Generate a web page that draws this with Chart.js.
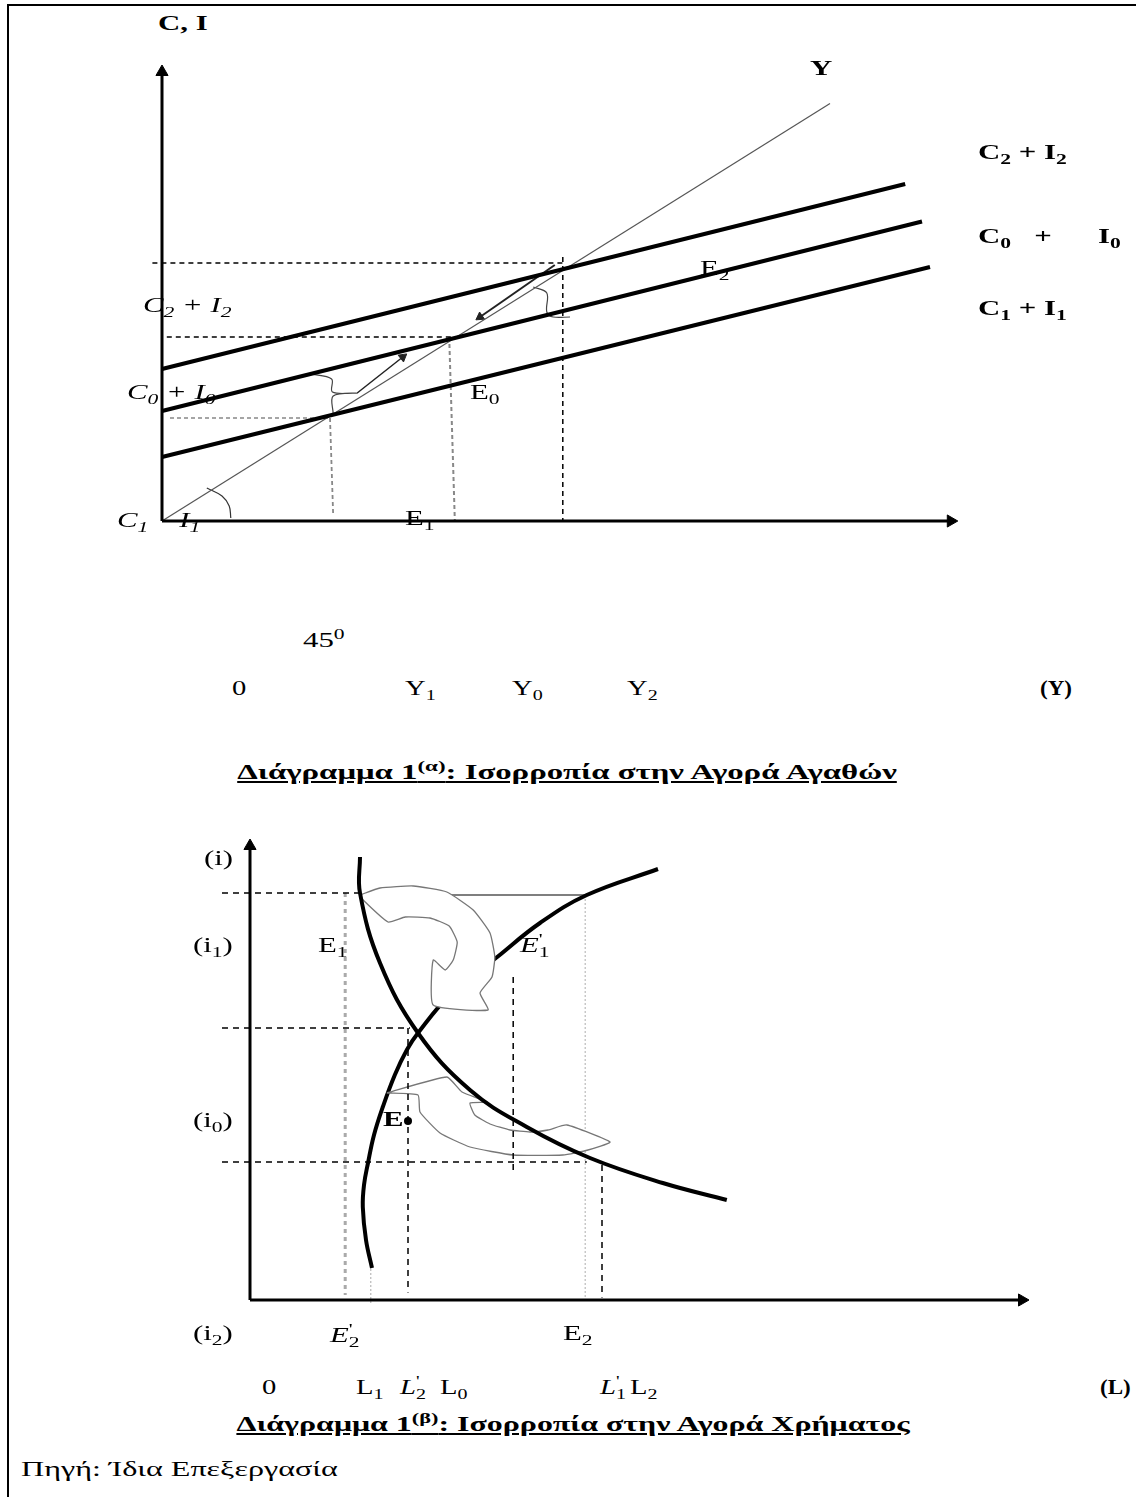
<!DOCTYPE html>
<html>
<head>
<meta charset="utf-8">
<script src="https://cdn.jsdelivr.net/npm/chart.js@4.4.0/dist/chart.umd.min.js"></script>
<style>
html,body{margin:0;padding:0;background:#fff;}
body{width:1136px;height:1497px;position:relative;overflow:hidden;font-family:"Liberation Serif","DejaVu Serif",serif;color:#000;}
.frame{position:absolute;left:7px;top:4px;width:1140px;height:1500px;border-left:2px solid #000;border-top:2px solid #000;}
canvas{position:absolute;}
.lbl{position:absolute;white-space:nowrap;line-height:1;font-size:22px;transform-origin:0 50%;transform:translateY(-50%) scaleX(var(--sx,1.4));}
.b{font-weight:bold;}
.it{font-style:italic;}
.cap{font-weight:bold;text-decoration:underline;font-size:22px;transform-origin:50% 50%;transform:translate(-50%,-50%) scaleX(var(--sx,1.49));}
sub{font-size:0.7em;vertical-align:-0.3em;line-height:0;}
sup{font-size:0.7em;vertical-align:0.55em;line-height:0;}
.pr{display:inline-block;width:0;}
</style>
</head>
<body>
<div class="frame"></div>
<canvas id="goods" width="904" height="520" style="left:98px;top:41px"></canvas>
<canvas id="money" width="880" height="490" style="left:170px;top:830px"></canvas>
<div id="labels"></div>
<script>
// ---- diagram 1(a): goods market (x = income Y, y = C+I) ----
const incomeLine = [{x:0,y:0},{x:83.5,y:83.5}];          // 45 degree line Y
const demand2 = [{x:0,y:30.4},{x:92.9,y:67.4}];          // C2 + I2
const demand0 = [{x:0,y:22},{x:95,y:59.9}];              // C0 + I0
const demand1 = [{x:0,y:12.8},{x:96,y:50.8}];            // C1 + I1
const goodsYAxis = [{x:0,y:0},{x:0,y:89.8}];
const goodsXAxis = [{x:0,y:0},{x:98.6,y:0}];
const guideE2h = [{x:-1.2,y:51.6},{x:50.1,y:51.6}];
const guideE2v = [{x:50.1,y:52.8},{x:50.1,y:0}];
const guideE0h = [{x:0.6,y:36.8},{x:36.2,y:36.8}];
const guideE0v = [{x:35.9,y:36.8},{x:36.6,y:0.2}];
const guideE1h = [{x:1,y:20.6},{x:21,y:20.6}];
const guideE1v = [{x:21,y:20.6},{x:21.4,y:1}];
const moveUp = [{x:24.4,y:25.6},{x:30.1,y:32.8}];
const moveDown = [{x:49.1,y:51.2},{x:39.75,y:40.8}];
const brace1 = [{x:18.5,y:29.4},{x:21.2,y:28.4},{x:21.3,y:25.8},{x:24.4,y:25.6},{x:21.4,y:25},{x:21.4,y:21.4}];
const brace2 = [{x:46.4,y:46.8},{x:48.1,y:45.6},{x:48.1,y:41.8},{x:48.9,y:40.8},{x:51,y:40.8}];
const angleArc = [{x:5.6,y:6.6},{x:7.5,y:5},{x:8.4,y:3},{x:8.6,y:0.6}];

// ---- diagram 1(b): money market (x = L, y = i) ----
const curveDown = [{x:13.75,y:88.6},{x:13.75,y:81.4},{x:16.25,y:67.4},{x:21,y:53.4},{x:27.5,y:42},{x:34.6,y:34.6},{x:42.5,y:28.4},{x:51.6,y:23.4},{x:59.6,y:20}];
const curveUp = [{x:15.25,y:6.4},{x:14.5,y:12},{x:14.1,y:18.6},{x:14.25,y:23},{x:14.75,y:27.4},{x:15.5,y:33},{x:16.6,y:38.6},{x:18.1,y:45},{x:19.6,y:50},{x:21,y:53.4},{x:25,y:61},{x:30.9,y:68.6},{x:36.25,y:75.4},{x:42.1,y:81},{x:51,y:86.2}];
const moneyYAxis = [{x:0,y:0},{x:0,y:90.8}];
const moneyXAxis = [{x:0,y:0},{x:96.5,y:0}];
const rateLine1 = [{x:-3.5,y:81.4},{x:13.75,y:81.4}];
const rateSolid = [{x:25,y:81},{x:42.1,y:81}];
const rateLine0 = [{x:-3.5,y:54.4},{x:20,y:54.4}];
const rateLine2 = [{x:-3.5,y:27.6},{x:42.1,y:27.6}];
const dropL1 = [{x:11.9,y:81.4},{x:11.9,y:1}];
const dropCurve = [{x:15.1,y:7},{x:15.1,y:-1}];
const dropL2p = [{x:19.75,y:54.4},{x:19.75,y:1.5}];
const dropMid = [{x:32.9,y:64.6},{x:32.9,y:26}];
const dropL1p = [{x:41.9,y:81},{x:41.9,y:0}];
const dropL2 = [{x:44,y:27},{x:44,y:0.5}];
const pointE = [{x:19.75,y:35.8}];
const bigArrowTop = [{x:13.75,y:81},{x:16.25,y:82.4},{x:20.4,y:82.8},{x:24.6,y:81.6},{x:27.9,y:78},{x:30,y:73.4},{x:30.6,y:68.6},{x:30.25,y:64.6},{x:28.75,y:61.4},{x:29.75,y:58},{x:22.9,y:59},{x:22.9,y:68},{x:24.4,y:66},{x:25.4,y:68},{x:25.9,y:71.6},{x:24.9,y:74.8},{x:22.5,y:76.4},{x:19.4,y:76.6},{x:17.25,y:75.6},{x:13.75,y:80.6},{x:13.75,y:81}];
const bigArrowLow = [{x:17.1,y:41.4},{x:24.6,y:44.6},{x:26.5,y:41.6},{x:29.6,y:39.6},{x:27.5,y:39.4},{x:28.1,y:37},{x:30,y:35.2},{x:32.5,y:34},{x:35,y:33.6},{x:37.25,y:34},{x:39.6,y:35},{x:45,y:31.6},{x:42.25,y:30},{x:39.1,y:29},{x:32.9,y:29},{x:27.5,y:30.6},{x:23.75,y:33.4},{x:21.25,y:37.6},{x:21,y:41},{x:17.1,y:41.4}];

// ---- text ----
const incomeTicks = ['0','Y<sub>1</sub>','Y<sub>0</sub>','Y<sub>2</sub>'];
const moneyTicks = ['0','L<sub>1</sub>','<i>L</i><span class="pr"><sup>\'</sup></span><sub>2</sub>','L<sub>0</sub>','<i>L</i><span class="pr"><sup>\'</sup></span><sub>1</sub>','L<sub>2</sub>'];
const rateTicks = ['(i)','(i<sub>1</sub>)','(i<sub>0</sub>)','(i<sub>2</sub>)'];
const demandNames = ['C<sub>2</sub> + I<sub>2</sub>','C<sub>0</sub>&nbsp;&nbsp;&nbsp;+&nbsp;&nbsp;&nbsp;&nbsp;&nbsp;&nbsp;I<sub>0</sub>','C<sub>1</sub> + I<sub>1</sub>'];
const demandNamesLeft = ['C<sub>2</sub> + I<sub>2</sub>','C<sub>0</sub> + I<sub>0</sub>','C<sub>1</sub>&nbsp;&nbsp;&nbsp;&nbsp;I<sub>1</sub>'];
const captions = ['Διάγραμμα 1<sup>(α)</sup>: Ισορροπία στην Αγορά Αγαθών','Διάγραμμα 1<sup>(β)</sup>: Ισορροπία στην Αγορά Χρήματος'];
const sourceNote = 'Πηγή: Ίδια Επεξεργασία';

function seg(data, color, width, dash, extra){
  return Object.assign({data:data, showLine:true, borderColor:color, borderWidth:width, borderDash:dash||[], pointRadius:0, fill:false, clip:false, tension:0}, extra||{});
}
function arrowSet(data, rot, color, width, size){
  return seg(data, color, width, [], {pointRadius:[0,size], pointStyle:'triangle', pointRotation:[0,rot], pointBackgroundColor:color, pointBorderColor:color, pointBorderWidth:1});
}
function heading(a, b){ // screen-space rotation for the triangle tip, data units scaled 8:5
  const dx = (b.x-a.x)*8, dy = -(b.y-a.y)*5;
  return Math.atan2(dx, -dy)*180/Math.PI;
}
function draw(id, xr, yr, datasets){
  return new Chart(document.getElementById(id), {
    type:'scatter',
    data:{datasets:datasets},
    options:{responsive:false, animation:false, events:[], devicePixelRatio:1,
      layout:{padding:0, autoPadding:false},
      plugins:{legend:{display:false}, tooltip:{enabled:false}},
      scales:{x:{type:'linear', min:xr[0], max:xr[1], display:false}, y:{type:'linear', min:yr[0], max:yr[1], display:false}}}
  });
}

const dashK = [5,4], grayDash = [4,3];
draw('goods', [-8,105], [-8,96], [
  arrowSet(goodsYAxis, 0, '#000', 3, 7),
  arrowSet(goodsXAxis, 90, '#000', 3, 7),
  seg(demand2, '#000', 4),
  seg(demand0, '#000', 4),
  seg(demand1, '#000', 4),
  seg(incomeLine, '#555', 1.2),
  arrowSet(moveUp, heading(moveUp[0], moveUp[1]), '#222', 1.5, 5),
  arrowSet(moveDown, heading(moveDown[0], moveDown[1]), '#222', 2, 5),
  seg(brace1, '#444', 1.2, [], {tension:0.35}),
  seg(brace2, '#444', 1.2, [], {tension:0.35}),
  seg(angleArc, '#333', 1.2, [], {tension:0.4}),
  seg(guideE2h, '#000', 1.3, dashK),
  seg(guideE2v, '#000', 1.5, dashK),
  seg(guideE0h, '#000', 1.3, dashK),
  seg(guideE0v, '#888', 2, grayDash),
  seg(guideE1h, '#888', 1.5, grayDash),
  seg(guideE1v, '#888', 1.8, grayDash)
]);

draw('money', [-10,100], [-4,94], [
  seg(pointE, '#000', 0, [], {pointRadius:4, pointBackgroundColor:'#000', pointBorderColor:'#000', showLine:false, order:0}),
  seg(curveDown, '#000', 4, [], {tension:0.4, order:1}),
  seg(dropL2p, '#000', 1.5, [6,5], {order:2}),
  seg(dropMid, '#000', 1.5, [6,5], {order:2}),
  seg(bigArrowTop, '#777', 1.3, [], {fill:'shape', backgroundColor:'#fff', tension:0.15, order:3}),
  seg(bigArrowLow, '#777', 1.3, [], {fill:'shape', backgroundColor:'#fff', tension:0.15, order:3}),
  seg(curveUp, '#000', 4, [], {tension:0.4, order:4}),
  arrowSet(moneyYAxis, 0, '#000', 3, 7),
  arrowSet(moneyXAxis, 90, '#000', 3, 7),
  seg(rateLine1, '#000', 1.5, [6,5], {order:5}),
  seg(rateSolid, '#000', 1.2, [], {order:5}),
  seg(rateLine0, '#000', 1.5, [6,5], {order:5}),
  seg(rateLine2, '#000', 1.5, [6,5], {order:5}),
  seg(dropL1, '#aaa', 3, [4,4], {order:5}),
  seg(dropCurve, '#aaa', 1, [2,2], {order:5}),
  seg(dropL1p, '#bbb', 1.2, [2,2], {order:5}),
  seg(dropL2, '#000', 1.5, [6,5], {order:5})
]);

// ---- labels (HTML text over the canvases) ----
const box = document.getElementById('labels');
function put(html, left, cy, cls, sx){
  const d = document.createElement('div');
  d.className = 'lbl ' + (cls||'');
  d.innerHTML = html;
  d.style.left = left + 'px';
  d.style.top = cy + 'px';
  if(sx) d.style.setProperty('--sx', sx);
  box.appendChild(d);
}
put('C, I', 158, 23, 'b');
put('Y', 810, 68, 'b');
const demandRightY = [152, 236, 308];
demandNames.forEach((t,i)=>put(t, 978, demandRightY[i], 'b'));
const demandLeftPos = [[143,305],[127,392],[117,520]];
demandNamesLeft.forEach((t,i)=>put(t, demandLeftPos[i][0], demandLeftPos[i][1], 'it'));
put('E<sub>0</sub>', 470, 392);
put('E<sub>1</sub>', 405, 518);
put('E<sub>2</sub>', 700, 268);
put('45<sup>0</sup>', 303, 640);
const incomeTickX = [232, 405, 512, 627];
incomeTicks.forEach((t,i)=>put(t, incomeTickX[i], 688, '', 1.3));
put('(Y)', 1040, 688, 'b', 1.05);

const rateTickPos = [[204,858],[193,945],[193,1120],[193,1333]];
rateTicks.forEach((t,i)=>put(t, rateTickPos[i][0], rateTickPos[i][1]));
put('E<sub>1</sub>', 318, 945);
put('<i>E</i><span class="pr"><sup>\'</sup></span><sub>1</sub>', 520, 945);
put('E', 383, 1119, 'b');
put('<i>E</i><span class="pr"><sup>\'</sup></span><sub>2</sub>', 330, 1335);
put('E<sub>2</sub>', 563, 1333);
const moneyTickX = [262, 356, 400, 440, 600, 630];
moneyTicks.forEach((t,i)=>put(t, moneyTickX[i], 1387, '', 1.3));
put('(L)', 1100, 1387, 'b', 1.05);

const capY = [772, 1424], capX = [567, 573], capScale = [1.49, 1.45];
captions.forEach((t,i)=>{
  const d = document.createElement('div');
  d.className = 'lbl cap'; d.innerHTML = t;
  d.style.left = capX[i] + 'px'; d.style.top = capY[i] + 'px';
  d.style.setProperty('--sx', capScale[i]);
  box.appendChild(d);
});
put(sourceNote, 21, 1469, '', 1.46);
</script>
</body>
</html>
